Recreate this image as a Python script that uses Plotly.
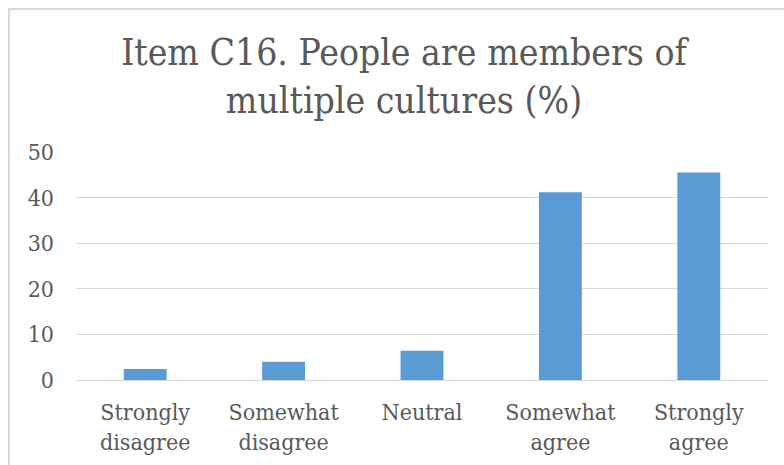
import plotly.graph_objects as go

categories = ["Strongly<br>disagree", "Somewhat<br>disagree", "Neutral", "Somewhat<br>agree", "Strongly<br>agree"]
values = [2.4, 4.0, 6.4, 41.2, 45.5]
y_ticks = [0, 10, 20, 30, 40, 50]

FONT = "DejaVu Serif Condensed, DejaVu Serif, serif"
TEXT = "#595959"
GRID = "#d9d9d9"

W, H = 784, 465
L, R, T, B = 76, 16, 152, 85
pw = W - L - R
ph = H - T - B

fig = go.Figure(go.Bar(
    x=categories, y=values,
    marker=dict(color="#5B9BD5", line=dict(width=0)),
))

def px_x(px):
    return (px - L) / pw

def px_y(py):
    return (H - B - py) / ph

fig.update_layout(
    width=W, height=H,
    margin=dict(l=L, r=R, t=T, b=B, autoexpand=False),
    paper_bgcolor="white", plot_bgcolor="white",
    bargap=0.69,
    showlegend=False,
    font=dict(family=FONT, color=TEXT),
    title=dict(
        text="Item C16. People are members of<br>multiple cultures (%)",
        font=dict(family=FONT, size=37, color=TEXT),
        x=px_x(404), xref="paper", xanchor="center",
        y=1 - 65 / H, yref="container", yanchor="top",
    ),
    xaxis=dict(
        tickfont=dict(family=FONT, size=23, color=TEXT),
        showgrid=False, showline=False, ticks="",
        ticklabelstandoff=16, automargin=False,
        fixedrange=True,
    ),
    yaxis=dict(
        range=[0, 50], tickvals=y_ticks,
        tickfont=dict(family=FONT, size=23, color=TEXT),
        showgrid=True, gridcolor=GRID, gridwidth=1,
        zeroline=True, zerolinecolor=GRID, zerolinewidth=1,
        showline=False, ticks="", ticklabelstandoff=21, automargin=False,
    ),
    shapes=[
        dict(type="path", xref="paper", yref="paper",
             path=f"M {px_x(9)} {px_y(480)} L {px_x(9)} {px_y(9)} L {px_x(800)} {px_y(9)}",
             line=dict(color=GRID, width=2)),
    ],
)

fig.write_html("out.html")
